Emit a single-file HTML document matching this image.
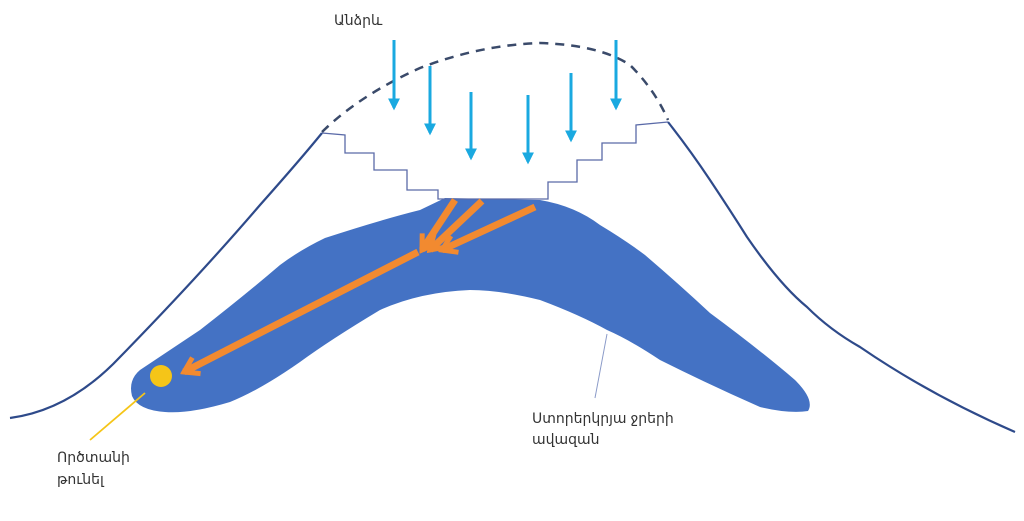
<!DOCTYPE html>
<html><head><meta charset="utf-8"><style>
html,body{margin:0;padding:0;background:#fff;}
svg{display:block;}
text{font-family:"Liberation Sans","DejaVu Sans",sans-serif;font-size:14px;fill:#333;}
</style></head><body>
<svg width="1024" height="521" viewBox="0 0 1024 521" xmlns="http://www.w3.org/2000/svg">
<defs>
<marker id="bh" viewBox="0 0 10 10" refX="8" refY="5" markerWidth="4" markerHeight="4" orient="auto"><path d="M0,0 L10,5 L0,10 z" fill="#1aa9e0"/></marker>
<marker id="oh" viewBox="0 0 24 24" refX="20" refY="12" markerUnits="userSpaceOnUse" markerWidth="24" markerHeight="24" orient="auto"><path d="M6,3 L20,12 L6,21" fill="none" stroke="#f28a30" stroke-width="5" stroke-linejoin="miter"/></marker>
</defs>
<!-- blob -->
<path d="M445,198 L540,200 Q575,206 600,225 Q625,240 645,255 Q680,285 710,313 Q760,350 795,380 Q815,400 808,411 Q790,414 760,407 Q710,385 660,360 Q630,340 607,330 Q580,315 540,300 Q500,290 470,290 Q420,292 380,310 Q330,340 300,362 Q260,390 230,402 Q190,414 165,412 Q138,410 132,396 Q128,380 140,370 Q170,350 200,330 Q245,295 280,265 Q300,250 325,238 Q380,220 420,210 Z" fill="#4472c4"/>
<!-- mountain -->
<path d="M10,418 Q70,410 120,357 Q200,275 260,205 Q300,160 322,133" fill="none" stroke="#2e4a8a" stroke-width="2.2"/>
<path d="M668,122 Q690,150 710,180 Q730,210 747,237 Q780,285 807,307 Q830,330 860,347 Q930,395 1015,432" fill="none" stroke="#2e4a8a" stroke-width="2.2"/>
<path d="M322,133 L345,135 L345,153 L374,153 L374,170 L407,170 L407,190 L438,190 L438,199 L548,199 L548,182 L577,182 L577,160 L602,160 L602,143 L636,143 L636,125 L668,122" fill="none" stroke="#5a6aa8" stroke-width="1.3"/>
<path d="M322,132 Q360,95 420,68 Q480,45 540,43 Q600,45 630,65 Q655,90 668,120" fill="none" stroke="#3a4a6a" stroke-width="2.5" stroke-dasharray="9,7"/>
<!-- rain -->
<g stroke="#1aa9e0" stroke-width="3" marker-end="url(#bh)">
<line x1="394" y1="40" x2="394" y2="108"/>
<line x1="430" y1="66" x2="430" y2="133"/>
<line x1="471" y1="92" x2="471" y2="158"/>
<line x1="528" y1="95" x2="528" y2="162"/>
<line x1="571" y1="73" x2="571" y2="140"/>
<line x1="616" y1="40" x2="616" y2="108"/>
</g>
<!-- orange -->
<g stroke="#f28a30" stroke-width="7" marker-end="url(#oh)">
<line x1="455" y1="200" x2="422" y2="250"/>
<line x1="482" y1="201" x2="430" y2="250"/>
<line x1="535" y1="207" x2="442" y2="250"/>
<line x1="418" y1="252" x2="184" y2="372"/>
</g>
<circle cx="161" cy="376" r="11" fill="#f5c518"/>
<line x1="145" y1="393" x2="90" y2="440" stroke="#f5c518" stroke-width="1.8"/>
<line x1="607" y1="334" x2="595" y2="398" stroke="#8a9ac8" stroke-width="1"/>
<text x="334" y="25">Անձրև</text>
<text x="57" y="462">Ործտանի</text>
<text x="57" y="484">թունել</text>
<text x="532" y="423">Ստորերկրյա ջրերի</text>
<text x="532" y="444">ավազան</text>
</svg>
</body></html>
